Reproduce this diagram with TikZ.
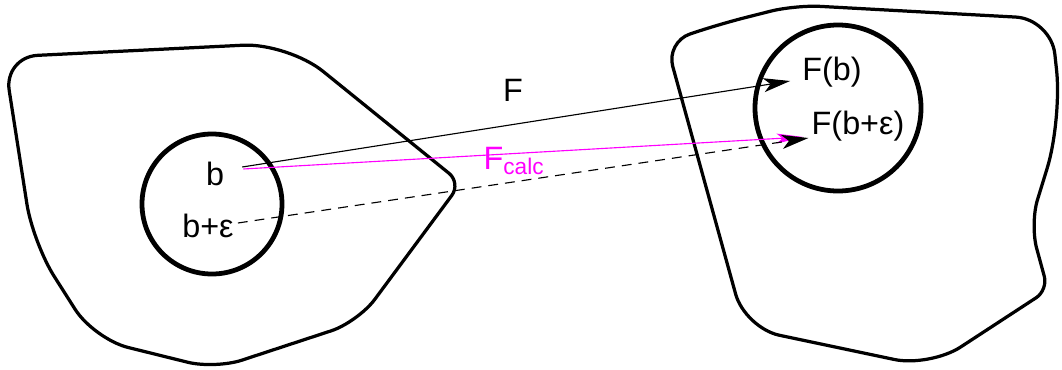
\documentclass[tikz,border=0pt]{standalone}
\usepackage{fontspec}
\setmainfont{Liberation Sans}
\usetikzlibrary{arrows.meta,positioning}
\definecolor{calcmag}{RGB}{255,0,255}
\tikzset{
  region/.style={line width=2.3pt, line join=round},
  ball/.style={line width=3.4pt},
  lbl/.style={font=\fontsize{23}{27}\selectfont, inner sep=0pt},
  maparrow/.style={-{Stealth[length=19pt, width=10pt, inset=5pt]}, line width=0.8pt},
  calcarrow/.style={-{Stealth[length=19pt, width=7pt, inset=4pt]}, line width=0.8pt, calcmag},
  nbarrow/.style={maparrow, dash pattern=on 7pt off 5pt}
}
\begin{document}
\begin{tikzpicture}[x=0.025cm, y=-0.025cm]
  \useasboundingbox (0,0) rectangle (1062,369);
  % domain and image regions
  \draw[region] (146,50) [rounded corners=32pt] -- (288,43)
    [rounded corners=11pt] -- (461,183) [rounded corners=20pt] -- (358,322)
    -- (215,369) [rounded corners=25pt] -- (94,339) [rounded corners=28pt] -- (33,243)
    [rounded corners=24pt] -- (4,57) -- cycle;
  \draw[region] (720,24) [rounded corners=18pt] -- (795,5) [rounded corners=25pt] -- (1051,19)
    [rounded corners=36pt] -- (1062,120) [rounded corners=18pt] -- (1030,224)
    [rounded corners=10pt] -- (1048,290) [rounded corners=26pt] -- (930,367)
    [rounded corners=25pt] -- (745,328) [rounded corners=18pt] -- (666,42) -- cycle;
  % neighbourhoods
  \draw[ball] (212,204) circle[radius=70];
  \draw[ball] (838,108) circle[radius=83];
  % labels
  \node[lbl] (b) at (215,174) {b};
  \node[lbl] (beps) at (208,226) {b+ε};
  \node[lbl] (Fb) at (832,72) {F(b)};
  \node[lbl] (Fbeps) at (858,126) {F(b+ε)};
  \node[lbl] (Flbl) at (513,90) {F};
  \node[lbl, calcmag] (Fcalc) at (514,161) {F\textsubscript{calc}};
  % mappings
  \draw[maparrow] ([shift={(18,-7)}]b.east) -- ([shift={(-12,9)}]Fb.west);
  \draw[calcarrow] ([shift={(19,-5)}]b.east) -- ([shift={(-8,11)}]Fbeps.west);
  \draw[nbarrow] ([shift={(4,-3)}]beps.east) -- ([shift={(-3,12)}]Fbeps.west);
\end{tikzpicture}
\end{document}
